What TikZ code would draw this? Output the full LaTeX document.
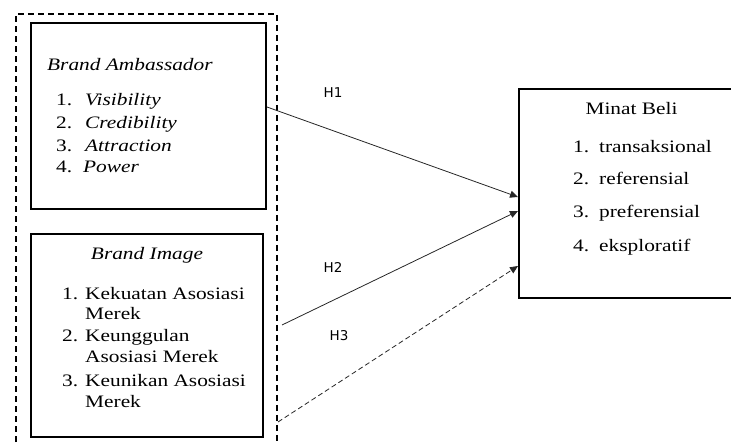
\documentclass[tikz,border=0pt]{standalone}
\usepackage{fontspec}
\setmainfont[FakeStretch=1.22]{Liberation Serif}
\newfontfamily\hfont{DejaVu Sans}
\usetikzlibrary{arrows.meta}
\newcommand{\numitem}[3]{\makebox[#1][l]{#2}#3}
\begin{document}
\begin{tikzpicture}[x=1pt,y=-1pt,
  box/.style={draw,line width=2pt,inner sep=0pt},
  txt/.style={anchor=base west,inner sep=0pt,font=\fontsize{17.5}{20}\selectfont},
  ctxt/.style={anchor=base,inner sep=0pt,font=\fontsize{17.5}{20}\selectfont},
  hlab/.style={inner sep=0pt,font=\hfont\fontsize{13.5}{15}\selectfont},
  conn/.style={line width=0.8pt,draw=black!85,-{Triangle[length=8pt,width=7pt]}},
  dconn/.style={conn,dash pattern=on 5pt off 3pt}]
\useasboundingbox (0,0) rectangle (731,443);
\clip (0,0) rectangle (731,443);
% outer dashed group
\draw[line width=2pt,dash pattern=on 6pt off 4pt] (16,452) -- (16,14) -- (277,14) -- (277,452);
% boxes
\node[box,minimum width=235pt,minimum height=186pt] (ba) at (148.5,116) {};
\node[box,minimum width=232pt,minimum height=203pt] (bi) at (147,335.5) {};
\node[box,minimum width=241pt,minimum height=209pt] (mb) at (639.5,193.5) {};
% box 1 text
\node[txt] (ba0) at (47,70.7) {\itshape Brand Ambassador};
\node[txt] (ba1) at (56,106) {\numitem{29pt}{1.}{\itshape Visibility}};
\node[txt] (ba2) at (56,129) {\numitem{29pt}{2.}{\itshape Credibility}};
\node[txt] (ba3) at (56,151.5) {\numitem{29pt}{3.}{\itshape Attraction}};
\node[txt] (ba4) at (56,173) {\numitem{27pt}{4.}{\itshape Power}};
% box 2 text
\node[ctxt] (bi0) at (147,260) {\itshape Brand Image};
\node[txt] (bi1) at (62,300) {\numitem{23pt}{1.}{Kekuatan Asosiasi}};
\node[txt] (bi1b) at (85,320) {Merek};
\node[txt] (bi2) at (62,341.5) {\numitem{23pt}{2.}{Keunggulan}};
\node[txt] (bi2b) at (85,363) {Asosiasi Merek};
\node[txt] (bi3) at (62,386.5) {\numitem{23pt}{3.}{Keunikan Asosiasi}};
\node[txt] (bi3b) at (85,408) {Merek};
% box 3 text
\node[ctxt] (mb0) at (631.5,115) {Minat Beli};
\node[txt] (mb1) at (573,152.5) {\numitem{26pt}{1.}{transaksional}};
\node[txt] (mb2) at (573,185) {\numitem{26pt}{2.}{referensial}};
\node[txt] (mb3) at (573,218) {\numitem{26pt}{3.}{preferensial}};
\node[txt] (mb4) at (573,251.5) {\numitem{26pt}{4.}{eksploratif}};
% hypothesis labels
\node[hlab] (h1) at (333,93) {H1};
\node[hlab] (h2) at (333,267) {H2};
\node[hlab] (h3) at (339,336) {H3};
% connectors
\coordinate (s2) at (282,325);
\coordinate (s3) at (278,422);
\draw[conn] (ba.east |- 0,107) -- (mb.west |- 0,197);
\draw[conn] (s2) -- (mb.west |- 0,211);
\draw[dconn] (s3) -- (mb.west |- 0,266);
\end{tikzpicture}
\end{document}
